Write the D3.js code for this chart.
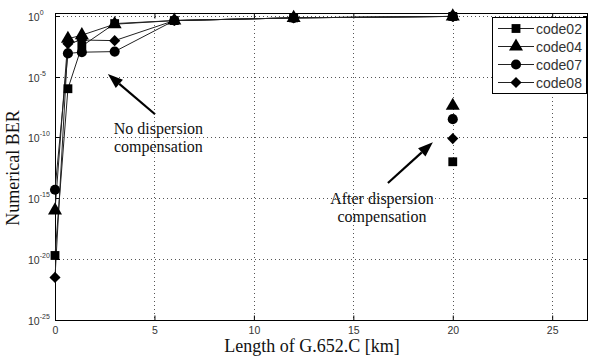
<!DOCTYPE html>
<html>
<head>
<meta charset="utf-8">
<script src="https://cdn.jsdelivr.net/npm/d3@7"></script>
<style>
    body { margin: 0; background: #fff; }
    svg { display: block; }
</style>
</head>
<body>
<div id="chart"></div>
<script>
// lengths of fibre [km]
const lengths = [0, 0.65, 1.35, 3, 6, 12, 20];
const codes = ['code02', 'code04', 'code07', 'code08'];
const symbols = ['square', 'triangle', 'circle', 'diamond'];

// log10(BER) without dispersion compensation
const code02 = [-19.7, -6.0, -2.5, -0.65, -0.4, -0.18, -0.06];
const code04 = [-16.0, -1.9, -1.6, -0.7, -0.4, -0.18, -0.06];
const code07 = [-14.3, -3.1, -3.0, -2.95, -0.4, -0.18, -0.06];
const code08 = [-21.5, -2.3, -2.0, -2.05, -0.4, -0.18, -0.06];

// log10(BER) after dispersion compensation, at 20 km
const compLength = 20;
const compBER = [-12.0, -7.4, -8.5, -10.1];

const xTicks = [0, 5, 10, 15, 20, 25];
const yTickExp = [0, -5, -10, -15, -20, -25];

const width = 590, height = 359;
const margin = {top: 13, right: 2, bottom: 39, left: 55};

const svg = d3.select('#chart').append('svg')
    .attr('width', width)
    .attr('height', height);

const x = d3.scaleLinear()
    .domain([0, 26.8])
    .range([margin.left, width - margin.right]);

const y = d3.scaleLog()
    .domain([1e-25, Math.pow(10, 0.22)])
    .range([height - margin.bottom, margin.top]);

const ey = e => y(Math.pow(10, e));

const x0 = x.range()[0], x1 = x.range()[1];
const y0 = y.range()[0], y1 = y.range()[1];

// grid
const grid = svg.append('g')
    .attr('stroke', '#555')
    .attr('stroke-width', 1)
    .attr('stroke-dasharray', '1,3');
grid.selectAll('.gx')
    .data(xTicks.slice(1))
    .enter()
    .append('line')
    .attr('x1', d => Math.round(x(d)) + 0.5)
    .attr('x2', d => Math.round(x(d)) + 0.5)
    .attr('y1', y1)
    .attr('y2', y0);
grid.selectAll('.gy')
    .data(yTickExp.slice(0, -1))
    .enter()
    .append('line')
    .attr('x1', x0)
    .attr('x2', x1)
    .attr('y1', d => Math.round(ey(d)) + 0.5)
    .attr('y2', d => Math.round(ey(d)) + 0.5);

// axes
svg.append('g')
    .attr('transform', 'translate(0,' + (Math.round(y0) + 0.5) + ')')
    .call(d3.axisBottom(x).tickValues(xTicks).tickSize(-5).tickPadding(6).tickFormat(d3.format('d')))
    .call(g => {
        g.select('.domain').remove();
        g.selectAll('text')
            .attr('font-family', 'Liberation Sans, Arial, sans-serif')
            .attr('font-size', 10.5)
            .attr('fill', '#333');
    });

svg.append('g')
    .attr('transform', 'translate(0,' + (Math.round(y1) + 0.5) + ')')
    .call(d3.axisTop(x).tickValues(xTicks).tickSize(-5).tickFormat(''))
    .call(g => g.select('.domain').remove());

const yTickMarks = svg.append('g').attr('stroke', '#000');
yTickMarks.selectAll('.tl')
    .data(yTickExp)
    .enter()
    .append('line')
    .attr('x1', x0)
    .attr('x2', x0 + 5)
    .attr('y1', d => Math.round(ey(d)) + 0.5)
    .attr('y2', d => Math.round(ey(d)) + 0.5);
yTickMarks.selectAll('.tr')
    .data(yTickExp)
    .enter()
    .append('line')
    .attr('x1', x1 - 5)
    .attr('x2', x1)
    .attr('y1', d => Math.round(ey(d)) + 0.5)
    .attr('y2', d => Math.round(ey(d)) + 0.5);

const yLabels = svg.append('g')
    .attr('font-family', 'Liberation Sans, Arial, sans-serif')
    .attr('fill', '#333');
yLabels.selectAll('text')
    .data(yTickExp)
    .enter()
    .append('text')
    .attr('x', 28)
    .attr('y', d => ey(d) + 5)
    .attr('font-size', 10.5)
    .each(function(d) {
        const t = d3.select(this);
        t.append('tspan').text('10');
        t.append('tspan')
            .attr('dy', -6)
            .attr('font-size', 7)
            .text(d);
    });

// frame
svg.append('rect')
    .attr('x', Math.round(x0) + 0.5)
    .attr('y', Math.round(y1) + 0.5)
    .attr('width', Math.round(x1) - Math.round(x0) - 1)
    .attr('height', Math.round(y0) - Math.round(y1))
    .attr('fill', 'none')
    .attr('stroke', '#000');

// series
const series = [code02, code04, code07, code08];
const squareDiamond = {
    draw: function(ctx, size) {
        const r = Math.sqrt(size / 2);
        ctx.moveTo(0, -r);
        ctx.lineTo(r, 0);
        ctx.lineTo(0, r);
        ctx.lineTo(-r, 0);
        ctx.closePath();
    }
};
const sym = {
    square: d3.symbol().type(d3.symbolSquare).size(78),
    triangle: d3.symbol().type(d3.symbolTriangle).size(85),
    circle: d3.symbol().type(d3.symbolCircle).size(80),
    diamond: d3.symbol().type(squareDiamond).size(62)
};

const line = d3.line()
    .x((d, k) => x(lengths[k]))
    .y(d => ey(d));

svg.append('g')
    .selectAll('path')
    .data(series)
    .enter()
    .append('path')
    .attr('d', line)
    .attr('fill', 'none')
    .attr('stroke', '#222')
    .attr('stroke-width', 1);

series.forEach(function(s, i) {
    svg.append('g')
        .selectAll('path')
        .data(s)
        .enter()
        .append('path')
        .attr('d', sym[symbols[i]])
        .attr('transform', (d, k) => 'translate(' + x(lengths[k]) + ',' + ey(d) + ')')
        .attr('fill', '#000');
});

svg.append('g')
    .selectAll('path')
    .data(compBER)
    .enter()
    .append('path')
    .attr('d', (d, i) => sym[symbols[i]]())
    .attr('transform', d => 'translate(' + x(compLength) + ',' + ey(d) + ')')
    .attr('fill', '#000');

// annotations (data coordinates: km, log10 BER)
const notes = [
    {tip: [2.66, -4.8], tail: [5.03, -8.1], at: [5.2, -9.72], lines: ['No dispersion', 'compensation']},
    {tip: [19.0, -10.4], tail: [16.74, -13.75], at: [16.44, -15.47], lines: ['After dispersion', 'compensation']}
];

notes.forEach(function(n) {
    const tx = x(n.tip[0]), ty = ey(n.tip[1]);
    const sx = x(n.tail[0]), sy = ey(n.tail[1]);
    const ang = Math.atan2(ty - sy, tx - sx);
    const len = 15, half = 5.5;
    const bx = tx - len * Math.cos(ang), by = ty - len * Math.sin(ang);
    svg.append('line')
        .attr('x1', sx).attr('y1', sy)
        .attr('x2', bx).attr('y2', by)
        .attr('stroke', '#000')
        .attr('stroke-width', 2.2);
    svg.append('path')
        .attr('d', 'M' + tx + ',' + ty +
            'L' + (bx + half * Math.sin(ang)) + ',' + (by - half * Math.cos(ang)) +
            'L' + (bx - half * Math.sin(ang)) + ',' + (by + half * Math.cos(ang)) + 'Z')
        .attr('fill', '#000');
    const t = svg.append('text')
        .attr('font-family', 'Liberation Serif, Times New Roman, serif')
        .attr('font-size', 16)
        .attr('fill', '#111')
        .attr('text-anchor', 'middle');
    n.lines.forEach(function(l, k) {
        t.append('tspan')
            .attr('x', x(n.at[0]))
            .attr('y', ey(n.at[1]) + k * 18)
            .text(l);
    });
});

// legend
const legend = svg.append('g').attr('transform', 'translate(492,17)');
legend.append('rect')
    .attr('x', 0.5).attr('y', 0.5)
    .attr('width', 94).attr('height', 76)
    .attr('fill', '#fff')
    .attr('stroke', '#000');
codes.forEach(function(c, i) {
    const gy = 11.5 + i * 18;
    legend.append('line')
        .attr('x1', 6).attr('x2', 42)
        .attr('y1', gy).attr('y2', gy)
        .attr('stroke', '#222');
    legend.append('path')
        .attr('d', sym[symbols[i]]())
        .attr('transform', 'translate(24,' + gy + ')')
        .attr('fill', '#000');
    legend.append('text')
        .attr('x', 44)
        .attr('y', gy + 5)
        .attr('font-family', 'Liberation Sans, Arial, sans-serif')
        .attr('font-size', 14)
        .attr('fill', '#333')
        .text(c);
});

// axis titles
svg.append('text')
    .attr('x', 312)
    .attr('y', 352)
    .attr('text-anchor', 'middle')
    .attr('font-family', 'Liberation Serif, Times New Roman, serif')
    .attr('font-size', 18)
    .attr('fill', '#111')
    .text('Length of G.652.C [km]');

svg.append('text')
    .attr('transform', 'translate(19,168) rotate(-90)')
    .attr('text-anchor', 'middle')
    .attr('font-family', 'Liberation Serif, Times New Roman, serif')
    .attr('font-size', 18)
    .attr('fill', '#111')
    .text('Numerical BER');
</script>
</body>
</html>
